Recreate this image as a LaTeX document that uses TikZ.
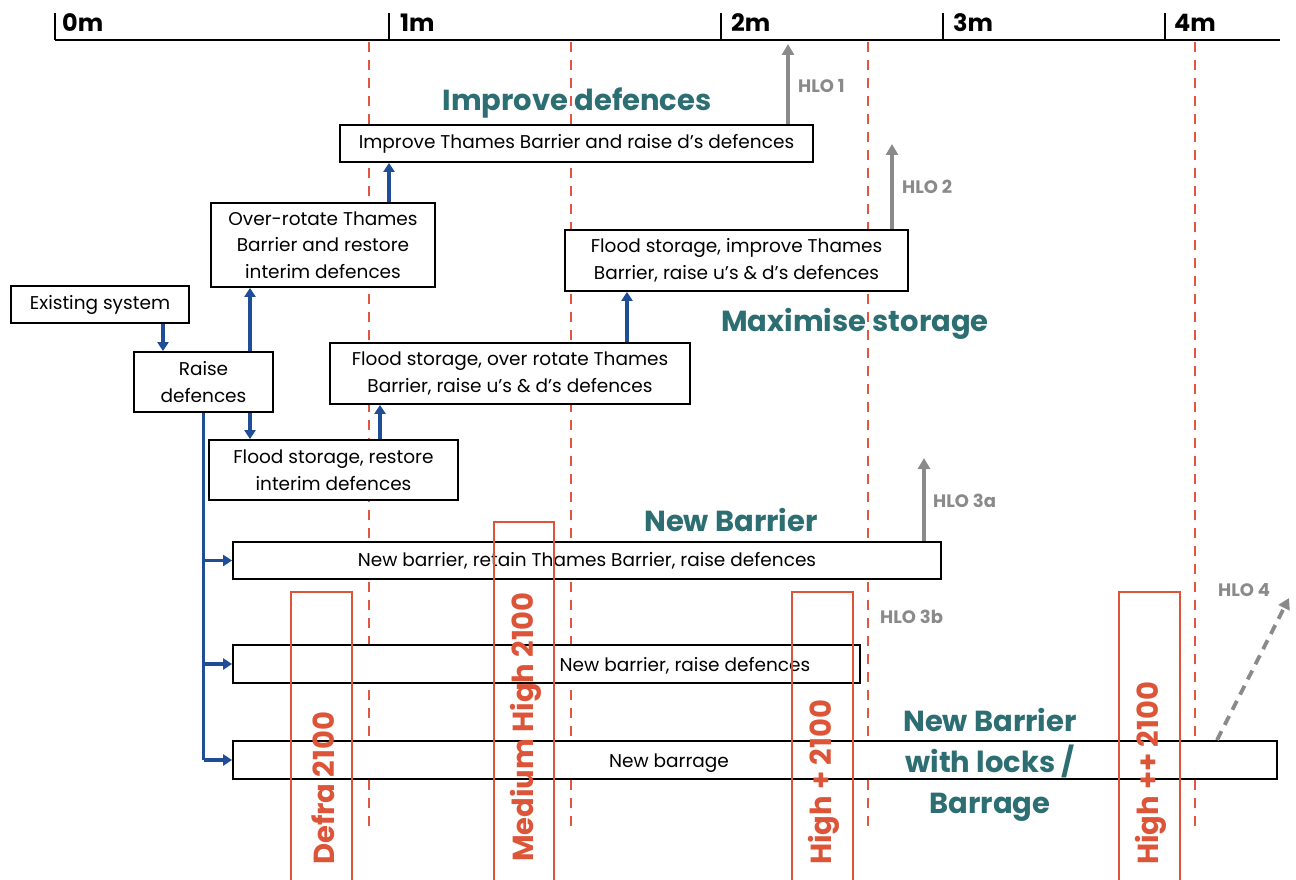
\documentclass[tikz,border=0pt]{standalone}
\usepackage{fontspec}
\setmainfont{Poppins}
\usetikzlibrary{arrows.meta}
\definecolor{teal2}{HTML}{2D6E73}
\definecolor{redc}{HTML}{DC5538}
\definecolor{dashred}{HTML}{E2553F}
\definecolor{bluec}{HTML}{1F4E96}
\definecolor{greyc}{HTML}{8A8A8A}
\tikzset{
  box/.style={draw=black, line width=1.8pt, fill=white, inner sep=0pt, align=center, font=\fontsize{18.5}{26.5}\selectfont},
  btxt/.style={font=\fontsize{18.5}{26.5}\selectfont, inner sep=0pt},
  barr/.style={draw=bluec, line width=3.4pt, -{Triangle[width=11pt,length=9pt]}},
  bline/.style={draw=bluec, line width=3.4pt},
  garr/.style={draw=greyc, line width=3.8pt, -{Triangle[width=12pt,length=11pt]}},
  hlo/.style={text=greyc, font=\fontsize{18}{20}\selectfont\bfseries, inner sep=0pt},
  teallbl/.style={text=teal2, font=\fontsize{29}{41}\selectfont\bfseries, align=center, inner sep=0pt},
  scen/.style={draw=redc, line width=2pt},
  scentxt/.style={text=redc, font=\fontsize{29}{32}\selectfont\bfseries, rotate=90, inner sep=0pt},
  dline/.style={draw=dashred, line width=1.6pt, dash pattern=on 10pt off 8pt},
  axis/.style={draw=black, line width=1.8pt},
  axlbl/.style={font=\fontsize{24}{28}\selectfont\bfseries, anchor=west, inner sep=0pt}
}
\begin{document}
\begin{tikzpicture}[x=1pt,y=-1pt]
\useasboundingbox (0,0) rectangle (1296,880);
% dashed lines
\foreach \x in {369,571,868,1195} \draw[dline] (\x,42) -- (\x,828);
% axis
\draw[axis] (55,40) -- (1280,40);
\foreach \x in {55,389,721,943,1165} \draw[axis] (\x,13) -- (\x,40);
\node[axlbl] (a0) at (62,23) {0m};
\node[axlbl] (a1) at (400,23) {1m};
\node[axlbl] (a2) at (731,23) {2m};
\node[axlbl] (a3) at (953,23) {3m};
\node[axlbl] (a4) at (1174,23) {4m};
% boxes
\node[box, minimum width=473pt, minimum height=37pt] (imp) at (576.5,143.5) {Improve Thames Barrier and raise d’s defences};
\node[box, minimum width=224pt, minimum height=84pt] (over) at (323,245) {Over-rotate Thames\\Barrier and restore\\interim defences};
\node[box, minimum width=178pt, minimum height=37pt] (es) at (100,304.5) {Existing system};
\node[box, minimum width=139pt, minimum height=60pt] (raise) at (203.5,382) {Raise\\defences};
\node[box, minimum width=360pt, minimum height=61pt] (fsov) at (510,373.5) {Flood storage, over rotate Thames\\Barrier, raise u’s \& d’s defences};
\node[box, minimum width=343pt, minimum height=61pt] (fsimp) at (736.5,260.5) {Flood storage, improve Thames\\Barrier, raise u’s \& d’s defences};
\node[box, minimum width=249pt, minimum height=60pt] (fsres) at (333.5,470) {Flood storage, restore\\interim defences};
\node[box, minimum width=708pt, minimum height=37pt] (nb1) at (587,560.5) {New barrier, retain Thames Barrier, raise defences};
\node[box, minimum width=627pt, minimum height=38pt] (nb2) at (546.5,664) {};
\node[btxt] (nb2t) at (685,666) {New barrier, raise defences};
\node[box, minimum width=1044pt, minimum height=38pt] (nb3) at (755,760) {};
\node[btxt] (nb3t) at (669,763) {New barrage};
% blue arrows
\draw[barr] (es.south -| 163,0) -- (raise.north -| 163,0);
\draw[barr] (raise.north -| 250,0) -- (over.south -| 250,0);
\draw[barr] (raise.south -| 250,0) -- (fsres.north -| 250,0);
\draw[barr] (over.north -| 389,0) -- (imp.south -| 389,0);
\draw[barr] (fsres.north -| 380,0) -- (fsov.south -| 380,0);
\draw[barr] (fsov.north -| 627,0) -- (fsimp.south -| 627,0);
\coordinate (trunkend) at (raise.south |- nb3.west);
\draw[bline] (raise.south) -- (trunkend);
\draw[barr] (raise.south |- nb1.west) -- (nb1.west);
\draw[barr] (raise.south |- nb2.west) -- (nb2.west);
\draw[barr] (trunkend) -- (nb3.west);
% grey HLO arrows
\coordinate (h1) at (788,44);
\coordinate (h2) at (892,144);
\coordinate (h3) at (924,458);
\coordinate (h4) at (1289,598);
\draw[garr] (imp.north -| h1) -- (h1);
\draw[garr] (fsimp.north -| h2) -- (h2);
\draw[garr] (nb1.north -| h3) -- (h3);
\draw[garr, dash pattern=on 10pt off 7pt] (nb3.north -| 1217,0) -- (h4);
\node[hlo, anchor=west] (l1) at (798,86) {HLO 1};
\node[hlo, anchor=west] (l2) at (902,187) {HLO 2};
\node[hlo, anchor=west] (l3a) at (933,501) {HLO 3a};
\node[hlo, anchor=west] (l3b) at (880,617) {HLO 3b};
\node[hlo, anchor=west] (l4) at (1218,590) {HLO 4};
% teal labels
\node[teallbl] (t1) at (577,103) {Improve defences};
\node[teallbl] (t2) at (855,324) {Maximise storage};
\node[teallbl] (t3) at (731,520) {New Barrier};
\node[teallbl] (t4) at (990,765) {New Barrier\\with locks /\\Barrage};
% scenario columns
\draw[scen] (291,880) -- (291,592) -- (352,592) -- (352,880);
\draw[scen] (494,880) -- (494,522) -- (554,522) -- (554,880);
\draw[scen] (792,880) -- (792,592) -- (853,592) -- (853,880);
\draw[scen] (1119,880) -- (1119,592) -- (1180,592) -- (1180,880);
\node[scentxt, anchor=west] (s1) at (323,865) {Defra 2100};
\node[scentxt, anchor=west] (s2) at (526,862) {Medium High 2100};
\node[scentxt, anchor=west] (s3) at (824,865) {High + 2100};
\node[scentxt, anchor=west] (s4) at (1151,865) {High ++ 2100};
\end{tikzpicture}
\end{document}
